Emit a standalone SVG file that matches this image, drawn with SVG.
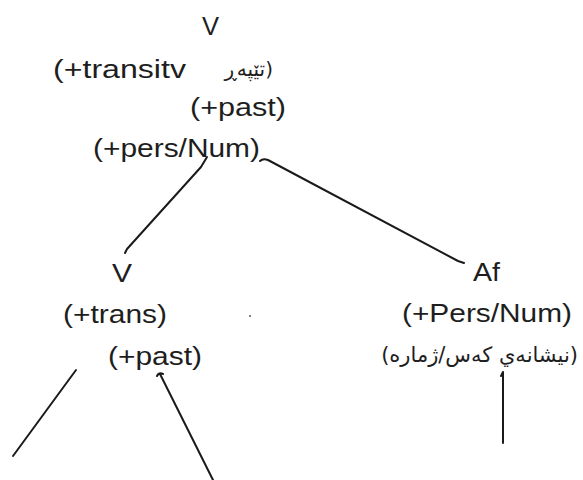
<svg xmlns="http://www.w3.org/2000/svg" width="583" height="480" viewBox="0 0 583 480">
<style>
.t{font-family:"Liberation Sans",Arial,sans-serif;font-size:26px;fill:#1e1e1e}
.k{font-family:"DejaVu Sans","Noto Sans",sans-serif;fill:#1e1e1e}
.c{fill:none;stroke:#1a1a1a;stroke-width:2;stroke-linecap:round;stroke-linejoin:round}
</style>
<rect width="583" height="480" fill="#ffffff"/>
<g id="node-v-top">
<text class="t" x="202" y="35" textLength="17" lengthAdjust="spacingAndGlyphs" font-size="28">V</text>
<text class="t" x="53" y="78" textLength="133" lengthAdjust="spacingAndGlyphs">(+transitv</text>
<text class="k" x="273" y="76" font-size="20" text-anchor="end">تێپەڕ)</text>
<text class="t" x="190" y="116" textLength="96" lengthAdjust="spacingAndGlyphs">(+past)</text>
<text class="t" x="93" y="157" textLength="167" lengthAdjust="spacingAndGlyphs">(+pers/Num)</text>
</g>
<g id="node-v-mid">
<text class="t" x="112" y="282" textLength="20" lengthAdjust="spacingAndGlyphs" font-size="28">V</text>
<text class="t" x="63" y="323" textLength="104" lengthAdjust="spacingAndGlyphs">(+trans)</text>
<text class="t" x="108" y="365" textLength="94" lengthAdjust="spacingAndGlyphs">(+past)</text>
</g>
<g id="node-af">
<text class="t" x="473" y="281" textLength="27" lengthAdjust="spacingAndGlyphs" font-size="28">Af</text>
<text class="t" x="402" y="322" textLength="170" lengthAdjust="spacingAndGlyphs">(+Pers/Num)</text>
<text class="k" x="578" y="362" font-size="21" text-anchor="end">(نیشانەي کەس/ژمارە)</text>
</g>
<g id="connectors">
<path class="c" d="M207,157 L201,167 L127,249 L125,253"/>
<path class="c" d="M260,161 Q263,158 268,160 L458,261 L464,263"/>
<path class="c" d="M76,370 L13,456"/>
<path class="c" d="M157,376 Q159,372 163,374 M160,374 L213,480"/>
<path class="c" d="M501,376 L503,372 L503,443"/>
</g>
<circle cx="250" cy="316" r="1" fill="#555"/>
</svg>
